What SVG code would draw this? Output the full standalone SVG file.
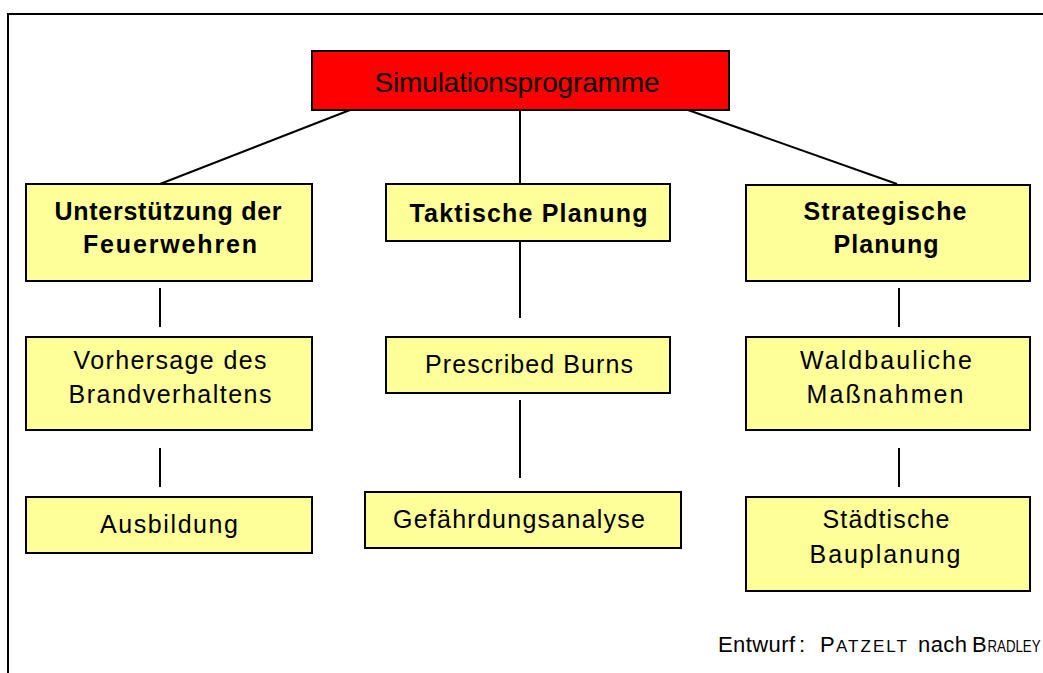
<svg xmlns="http://www.w3.org/2000/svg" width="1043" height="673" viewBox="0 0 1043 673">
  <style>
    .frame { fill: none; stroke: #000; stroke-width: 2; }
    .box { fill: #FFFF99; stroke: #000; stroke-width: 2; }
    .root { fill: #FF0000; stroke: #000; stroke-width: 2; }
    .link { stroke: #000; stroke-width: 2; fill: none; }
    text { font-family: "Liberation Sans", Arial, sans-serif; fill: #000; text-anchor: middle; }
    .t { font-size: 25px; }
    .b { font-size: 25px; font-weight: bold; }
    .title { font-size: 28px; }
    .foot { font-size: 22px; text-anchor: start; }
  </style>

  <!-- page frame -->
  <rect class="frame" x="8" y="14" width="1060" height="700"/>

  <!-- connectors -->
  <g id="connectors">
    <line class="link" x1="350" y1="110" x2="160" y2="184"/>
    <line class="link" x1="520" y1="110" x2="520" y2="184"/>
    <line class="link" x1="688" y1="110" x2="897" y2="184"/>
    <line class="link" x1="160" y1="288" x2="160" y2="327"/>
    <line class="link" x1="160" y1="448" x2="160" y2="487"/>
    <line class="link" x1="520" y1="241" x2="520" y2="318"/>
    <line class="link" x1="520" y1="400" x2="520" y2="478"/>
    <line class="link" x1="899" y1="288" x2="899" y2="327"/>
    <line class="link" x1="899" y1="448" x2="899" y2="487"/>
  </g>

  <!-- root -->
  <g id="simulationsprogramme">
    <rect class="root" x="312" y="51" width="417" height="59"/>
    <text class="title" x="517" y="92" textLength="285" lengthAdjust="spacing">Simulationsprogramme</text>
  </g>

  <!-- left column -->
  <g id="unterstuetzung">
    <rect class="box" x="26" y="184" width="286" height="97"/>
    <text class="b" x="168" y="220" textLength="227" lengthAdjust="spacing">Unterstützung der</text>
    <text class="b" x="170" y="253" textLength="174" lengthAdjust="spacing">Feuerwehren</text>
  </g>
  <g id="vorhersage">
    <rect class="box" x="26" y="337" width="286" height="93"/>
    <text class="t" x="170" y="369" textLength="193" lengthAdjust="spacing">Vorhersage des</text>
    <text class="t" x="170" y="403" textLength="203" lengthAdjust="spacing">Brandverhaltens</text>
  </g>
  <g id="ausbildung">
    <rect class="box" x="26" y="497" width="286" height="56"/>
    <text class="t" x="169" y="533" textLength="138" lengthAdjust="spacing">Ausbildung</text>
  </g>

  <!-- middle column -->
  <g id="taktische-planung">
    <rect class="box" x="386" y="184" width="284" height="57"/>
    <text class="b" x="528.5" y="221.5" textLength="238" lengthAdjust="spacing">Taktische Planung</text>
  </g>
  <g id="prescribed-burns">
    <rect class="box" x="386" y="337" width="284" height="56"/>
    <text class="t" x="529" y="373" textLength="208" lengthAdjust="spacing">Prescribed Burns</text>
  </g>
  <g id="gefaehrdungsanalyse">
    <rect class="box" x="365" y="492" width="316" height="56"/>
    <text class="t" x="519" y="528" textLength="252" lengthAdjust="spacing">Gefährdungsanalyse</text>
  </g>

  <!-- right column -->
  <g id="strategische-planung">
    <rect class="box" x="746" y="185" width="284" height="96"/>
    <text class="b" x="885" y="220" textLength="163" lengthAdjust="spacing">Strategische</text>
    <text class="b" x="886" y="253" textLength="105" lengthAdjust="spacing">Planung</text>
  </g>
  <g id="waldbauliche">
    <rect class="box" x="746" y="337" width="284" height="93"/>
    <text class="t" x="886" y="369" textLength="172" lengthAdjust="spacing">Waldbauliche</text>
    <text class="t" x="885" y="403" textLength="157" lengthAdjust="spacing">Maßnahmen</text>
  </g>
  <g id="staedtische">
    <rect class="box" x="746" y="497" width="284" height="94"/>
    <text class="t" x="886" y="528" textLength="127" lengthAdjust="spacing">Städtische</text>
    <text class="t" x="885" y="563" textLength="151" lengthAdjust="spacing">Bauplanung</text>
  </g>

  <!-- credit line (small caps for the author names) -->
  <text class="foot" y="652"><tspan x="718" textLength="77" lengthAdjust="spacing">Entwurf</tspan><tspan x="799">:</tspan><tspan x="820">P</tspan><tspan x="836" font-size="17" textLength="71" lengthAdjust="spacing">ATZELT</tspan><tspan x="918" textLength="49" lengthAdjust="spacing">nach</tspan><tspan x="972">B</tspan><tspan x="987.5" font-size="16" textLength="53" lengthAdjust="spacingAndGlyphs">RADLEY</tspan></text>
</svg>
